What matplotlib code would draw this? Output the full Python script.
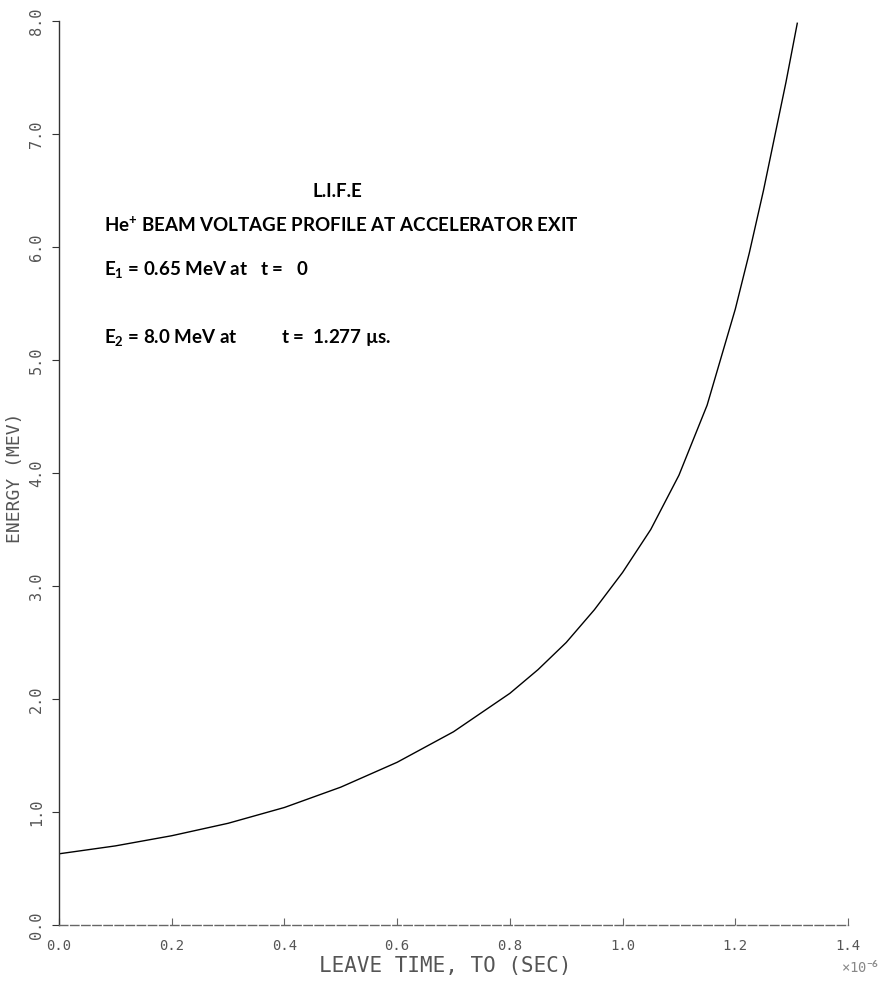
import numpy as np
import matplotlib
matplotlib.use("Agg")
import matplotlib.pyplot as plt

# energy profile (time in units of 1e-6 s, energy in MeV)
t_us = [0.0, 0.1, 0.2, 0.3, 0.4, 0.5, 0.6, 0.7, 0.8, 0.85, 0.9, 0.95, 1.0,
        1.05, 1.1, 1.15, 1.2, 1.225, 1.25, 1.27, 1.29, 1.31]
energy = [0.63, 0.70, 0.79, 0.90, 1.04, 1.22, 1.44, 1.71, 2.05, 2.26, 2.50, 2.79, 3.12,
          3.50, 3.98, 4.60, 5.45, 5.95, 6.50, 6.98, 7.46, 7.98]

xticks = [0.0, 0.2, 0.4, 0.6, 0.8, 1.0, 1.2, 1.4]
yticks = [0.0, 1.0, 2.0, 3.0, 4.0, 5.0, 6.0, 7.0, 8.0]

notes = ["L.I.F.E",
         "He$^{+}$ BEAM VOLTAGE PROFILE AT ACCELERATOR EXIT",
         "E$_{1}$ = 0.65 MeV at   t =   0",
         "E$_{2}$ = 8.0 MeV at          t =  1.277 \u00b5s."]

plt.rcParams['mathtext.fontset'] = 'custom'
plt.rcParams['mathtext.rm'] = 'Lato:bold'
plt.rcParams['mathtext.it'] = 'Lato:bold'
plt.rcParams['mathtext.bf'] = 'Lato:bold'

fig = plt.figure(figsize=(8.91, 9.94), dpi=100)
ax = fig.add_axes([59/891, 69/994, 789/891, 904/994])

ax.plot(t_us, energy, color='black', lw=1.0)

ax.set_xlim(0, 1.4)
ax.set_ylim(0, 8)
for s in ['top', 'right']:
    ax.spines[s].set_visible(False)
ax.spines['left'].set_color('#333333')
ax.spines['bottom'].set_color('#666666')
ax.spines['bottom'].set_linestyle((0, (6, 2)))
ax.spines['left'].set_linewidth(1.0)
ax.spines['bottom'].set_linewidth(1.0)

ax.set_xticks(xticks)
ax.set_xticklabels(['%.1f' % v for v in xticks], family='DejaVu Sans Mono',
                   fontsize=10, color='#555555')
ax.set_yticks(yticks)
ax.set_yticklabels(['%.1f' % v for v in yticks], family='DejaVu Sans Mono',
                   fontsize=11, color='#555555', rotation=90, va='center')
ax.tick_params(axis='x', direction='in', length=5, pad=10, color='#666666')
ax.tick_params(axis='y', direction='out', length=5, pad=6, color='#333333')

fig.text(15/891, 1 - 478/994, "ENERGY (MEV)", rotation=90, ha='center', va='center',
         family='DejaVu Sans Mono', fontsize=13, color='#555555')
fig.text(445/891, 1 - 966/994, "LEAVE TIME, TO (SEC)", ha='center', va='center',
         family='DejaVu Sans Mono', fontsize=15, color='#555555')
fig.text(860/891, 1 - 968/994, "\u00d710$^{-6}$", ha='center', va='center',
         family='DejaVu Sans Mono', fontsize=10, color='#888888')

ax.text(337/891, 1 - 192/994, notes[0], transform=fig.transFigure, ha='center', va='center',
        family='Lato', weight='bold', fontsize=13.5)
ax.text(104/891, 1 - 225/994, notes[1], transform=fig.transFigure, ha='left', va='center',
        family='Lato', weight='bold', fontsize=13.5)
ax.text(104/891, 1 - 270/994, notes[2], transform=fig.transFigure, ha='left', va='center',
        family='Lato', weight='bold', fontsize=13.5)
ax.text(104/891, 1 - 337/994, notes[3], transform=fig.transFigure, ha='left', va='center',
        family='Lato', weight='bold', fontsize=13.5)

fig.savefig('out.png', dpi=100)
